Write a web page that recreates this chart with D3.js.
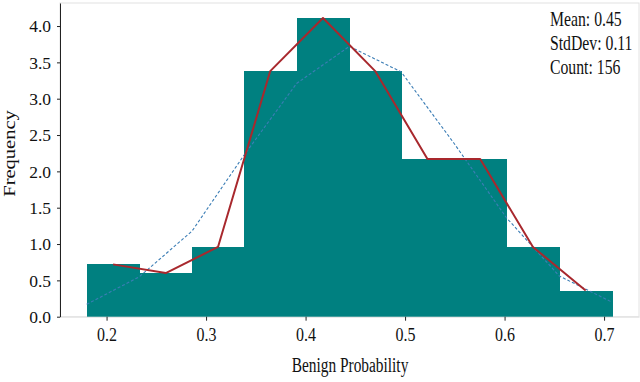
<!DOCTYPE html>
<html>
<head>
<meta charset="utf-8">
<script src="https://cdn.jsdelivr.net/npm/d3@7"></script>
<style>
  body { margin: 0; background: #fff; }
  text { font-family: "Liberation Serif", "Times New Roman", serif; fill: #111; }
</style>
</head>
<body>
<div id="chart"></div>
<script>
// histogram of benign probability
var w = 640, h = 382;

var binEdges = [0.180, 0.233, 0.286, 0.338, 0.391, 0.444, 0.496, 0.549, 0.602, 0.655, 0.708];
var freq = [0.72, 0.60, 0.96, 3.38, 4.11, 3.38, 2.17, 2.17, 0.96, 0.36];
var normalFit = [0.17, 0.55, 1.18, 2.22, 3.21, 3.72, 3.37, 2.39, 1.36, 0.56, 0.20];
var xTicks = [0.2, 0.3, 0.4, 0.5, 0.6, 0.7];
var yTicks = [0, 0.5, 1, 1.5, 2, 2.5, 3, 3.5, 4];
var stats = ["Mean: 0.45", "StdDev: 0.11", "Count: 156"];

var m = {top: 3, right: 1, bottom: 65.3, left: 60};
var iw = w - m.left - m.right, ih = h - m.top - m.bottom;

var svg = d3.select("#chart").append("svg")
  .attr("width", w).attr("height", h);

var x = d3.scaleLinear().domain([0.1532, 0.7351]).range([0, iw]);
var y = d3.scaleLinear().domain([0, 4.317]).range([ih, 0]);

var g = svg.append("g").attr("transform", "translate(" + m.left + "," + m.top + ")");

// light frame
g.append("rect").attr("width", iw).attr("height", ih)
  .attr("fill", "none").attr("stroke", "#e2e2e2").attr("stroke-width", 1);

// bars
g.selectAll("rect.bar").data(freq).enter().append("rect")
  .attr("class", "bar")
  .attr("x", function(d, i) { return x(binEdges[i]); })
  .attr("width", function(d, i) { return x(binEdges[i + 1]) - x(binEdges[i]) + 0.5; })
  .attr("y", function(d) { return y(d); })
  .attr("height", function(d) { return ih - y(d); })
  .attr("fill", "#008080")
  .attr("shape-rendering", "crispEdges");

// normal fit (dashed)
var fitPts = normalFit.map(function(d, i) { return [binEdges[i], d]; });
g.append("path").datum(fitPts)
  .attr("fill", "none").attr("stroke", "#3b7db5").attr("stroke-width", 1.1)
  .attr("stroke-dasharray", "3,2")
  .attr("d", d3.line().x(function(d) { return x(d[0]); }).y(function(d) { return y(d[1]); }));

// frequency polygon
var polyPts = freq.map(function(d, i) { return [(binEdges[i] + binEdges[i + 1]) / 2, d]; });
g.append("path").datum(polyPts)
  .attr("fill", "none").attr("stroke", "#a8282d").attr("stroke-width", 2)
  .attr("stroke-linejoin", "round")
  .attr("d", d3.line().x(function(d) { return x(d[0]); }).y(function(d) { return y(d[1]); }));

// axes
var xAxis = g.append("g").attr("transform", "translate(0," + ih + ")")
  .call(d3.axisBottom(x).tickValues(xTicks).tickFormat(d3.format(".1f")).tickSize(4).tickSizeOuter(0));
xAxis.select(".domain").attr("stroke", "#e2e2e2");
xAxis.selectAll(".tick line").attr("stroke", "#222");
xAxis.selectAll("text").attr("font-size", 19.5).attr("y", 24.5).attr("dy", 0)
  .attr("transform", "scale(0.82,1)");

var yAxis = g.append("g")
  .call(d3.axisLeft(y).tickValues(yTicks).tickFormat(d3.format(".1f")).tickSize(3).tickSizeOuter(0));
yAxis.select(".domain").attr("stroke", "#222");
yAxis.selectAll(".tick line").attr("stroke", "#222");
yAxis.selectAll("text").attr("font-size", 17.5).attr("x", -9).attr("dy", "0.34em");

// axis titles
svg.append("text").attr("transform", "translate(350,372) scale(0.77,1)")
  .attr("text-anchor", "middle").attr("font-size", 20).text("Benign Probability");
svg.append("text").attr("transform", "translate(15,153.5) rotate(-90) scale(1,0.8)")
  .attr("text-anchor", "middle").attr("font-size", 20.5).text("Frequency");

// stats box
svg.selectAll("text.stat").data(stats).enter().append("text")
  .attr("class", "stat")
  .attr("transform", function(d, i) { return "translate(550," + (26 + i * 24) + ") scale(0.75,1)"; })
  .attr("font-size", 21).text(function(d) { return d; });
</script>
</body>
</html>
